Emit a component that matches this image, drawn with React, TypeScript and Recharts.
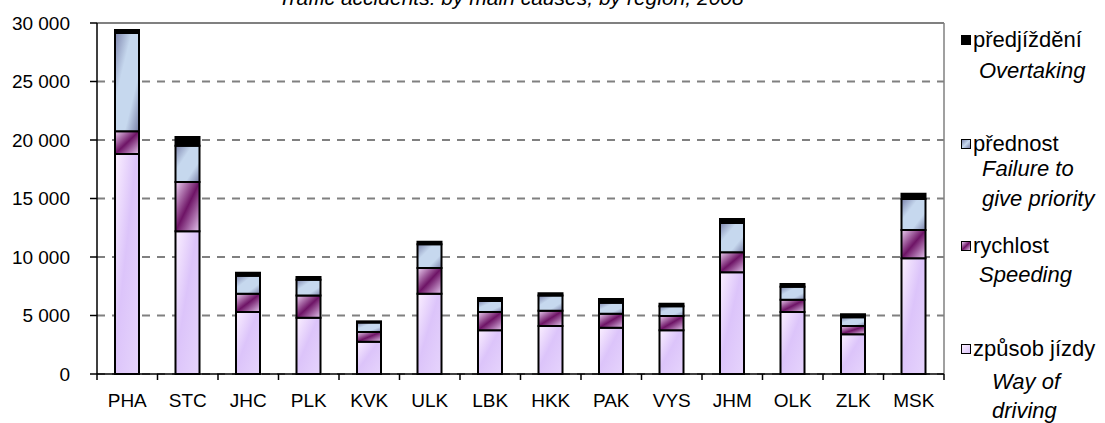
import { BarChart, Bar, XAxis, YAxis, CartesianGrid, ReferenceLine } from 'recharts';

const regions = ['PHA', 'STC', 'JHC', 'PLK', 'KVK', 'ULK', 'LBK', 'HKK', 'PAK', 'VYS', 'JHM', 'OLK', 'ZLK', 'MSK'];
const wayOfDriving = [18800, 12200, 5300, 4800, 2750, 6850, 3750, 4100, 3950, 3750, 8700, 5300, 3400, 9900];
const speeding = [1950, 4200, 1550, 1900, 850, 2200, 1550, 1300, 1200, 1200, 1700, 1050, 700, 2400];
const priority = [8400, 3100, 1550, 1350, 800, 2050, 950, 1300, 950, 850, 2500, 1100, 750, 2650];
const overtaking = [250, 750, 250, 250, 100, 200, 250, 200, 300, 200, 350, 250, 250, 450];
const yTicks = [0, 5000, 10000, 15000, 20000, 25000, 30000];

const title = 'Traffic accidents: by main causes, by region, 2008';

const data = regions.map((region, i) => ({
  region,
  way: wayOfDriving[i],
  speed: speeding[i],
  priority: priority[i],
  overtaking: overtaking[i],
}));

// legend entries, top to bottom
const legendItems = [
  { cz: 'předjíždění', en: ['Overtaking'], top: 40, enTop: [71], enLeft: 979, swatch: '#000' },
  { cz: 'přednost', en: ['Failure to', 'give priority'], top: 144, enTop: [169, 199], enLeft: 982, swatch: 'linear-gradient(135deg, #7d85ad, #c6d8ee 50%, #7a80a8)' },
  { cz: 'rychlost', en: ['Speeding'], top: 246, enTop: [275], enLeft: 979, swatch: 'linear-gradient(135deg, #e8c8f0, #6e1466 50%, #e0c0ea)' },
  { cz: 'způsob jízdy', en: ['Way of', 'driving'], top: 349, enTop: [382, 411], enLeft: 992, swatch: 'linear-gradient(135deg, #fbf0ff, #dcc4fa)' },
];

const CHART_W = 950;
const CHART_H = 423;
const MARGIN = { top: 23, right: 6, left: 0, bottom: 19 };
const Y_AXIS_W = 97;
const X_AXIS_H = 30;
const PLOT_W = CHART_W - MARGIN.right - MARGIN.left - Y_AXIS_W;
const BAND = PLOT_W / regions.length;
const FONT = '"Liberation Sans", Arial, sans-serif';

const fmt = (v: number) => String(v).replace(/\B(?=(\d{3})+(?!\d))/g, ' ');

function RegionTick(props: any) {
  const { x, y, payload, index } = props;
  const last = index === regions.length - 1;
  return (
    <g>
      <line x1={x - BAND / 2} x2={x - BAND / 2} y1={y} y2={y + 6} stroke="#000" strokeWidth={1.5} />
      {last && <line x1={x + BAND / 2} x2={x + BAND / 2} y1={y} y2={y + 6} stroke="#000" strokeWidth={1.5} />}
      <text x={x} y={y + 33} textAnchor="middle" fontSize={19} fill="#000" fontFamily={FONT}>
        {payload.value}
      </text>
    </g>
  );
}

export default function App() {
  return (
    <div style={{ position: 'absolute', left: 0, top: 0, width: 1105, height: 423, overflow: 'hidden', background: '#fff', fontFamily: FONT }}>
      <div style={{ position: 'absolute', left: 0, width: 1022, top: -13, textAlign: 'center', fontSize: 21, fontStyle: 'italic', lineHeight: '21px', color: '#000' }}>
        {title}
      </div>

      <BarChart width={CHART_W} height={CHART_H} data={data} margin={MARGIN} barSize={24}>
        <defs>
          <linearGradient id="gWay" x1="0" y1="0" x2="1" y2="1">
            <stop offset="0%" stopColor="#fbf0ff" />
            <stop offset="45%" stopColor="#dcc4fa" />
            <stop offset="100%" stopColor="#e6d4fc" />
          </linearGradient>
          <linearGradient id="gSpeed" x1="0" y1="0" x2="1" y2="1">
            <stop offset="0%" stopColor="#ecd0f2" />
            <stop offset="50%" stopColor="#6e1466" />
            <stop offset="100%" stopColor="#e4c6ee" />
          </linearGradient>
          <linearGradient id="gPriority" x1="0" y1="0" x2="1" y2="1">
            <stop offset="0%" stopColor="#7d85ad" />
            <stop offset="35%" stopColor="#c6d8ee" />
            <stop offset="70%" stopColor="#c6d8ee" />
            <stop offset="100%" stopColor="#7a80a8" />
          </linearGradient>
        </defs>
        <CartesianGrid vertical={false} stroke="#808080" strokeWidth={2} strokeDasharray="8 7" />
        <XAxis
          dataKey="region"
          interval={0}
          height={X_AXIS_H}
          axisLine={{ stroke: '#000', strokeWidth: 1.5 }}
          tickLine={false}
          tickSize={0}
          tickMargin={0}
          tick={<RegionTick />}
        />
        <YAxis
          width={Y_AXIS_W}
          domain={[0, 30000]}
          ticks={yTicks}
          interval={0}
          tickFormatter={fmt}
          axisLine={{ stroke: '#000', strokeWidth: 1.5 }}
          tickLine={{ stroke: '#000', strokeWidth: 1.5 }}
          tickSize={7}
          tickMargin={20}
          tick={{ fontSize: 19, fill: '#000', fontFamily: FONT }}
        />
        <ReferenceLine y={30000} stroke="#808080" strokeWidth={2} />
        <ReferenceLine x="MSK" position="end" stroke="#808080" strokeWidth={1.5} />
        <Bar dataKey="way" stackId="a" fill="url(#gWay)" stroke="#000" strokeWidth={2} isAnimationActive={false} />
        <Bar dataKey="speed" stackId="a" fill="url(#gSpeed)" stroke="#000" strokeWidth={2} isAnimationActive={false} />
        <Bar dataKey="priority" stackId="a" fill="url(#gPriority)" stroke="#000" strokeWidth={2} isAnimationActive={false} />
        <Bar dataKey="overtaking" stackId="a" fill="#000" stroke="#000" strokeWidth={2} isAnimationActive={false} />
      </BarChart>

      {legendItems.map((item) => (
        <div key={item.cz}>
          <div style={{ position: 'absolute', left: 961, top: item.top - 5, width: 10, height: 10, boxSizing: 'border-box', border: '1.5px solid #000', background: item.swatch }} />
          <div style={{ position: 'absolute', left: 973, top: item.top - 12, fontSize: 22, lineHeight: '24px', color: '#000', whiteSpace: 'nowrap' }}>
            {item.cz}
          </div>
          {item.en.map((line, j) => (
            <div key={line} style={{ position: 'absolute', left: item.enLeft, top: item.enTop[j] - 12, fontSize: 22, lineHeight: '24px', fontStyle: 'italic', color: '#000', whiteSpace: 'nowrap' }}>
              {line}
            </div>
          ))}
        </div>
      ))}
    </div>
  );
}
